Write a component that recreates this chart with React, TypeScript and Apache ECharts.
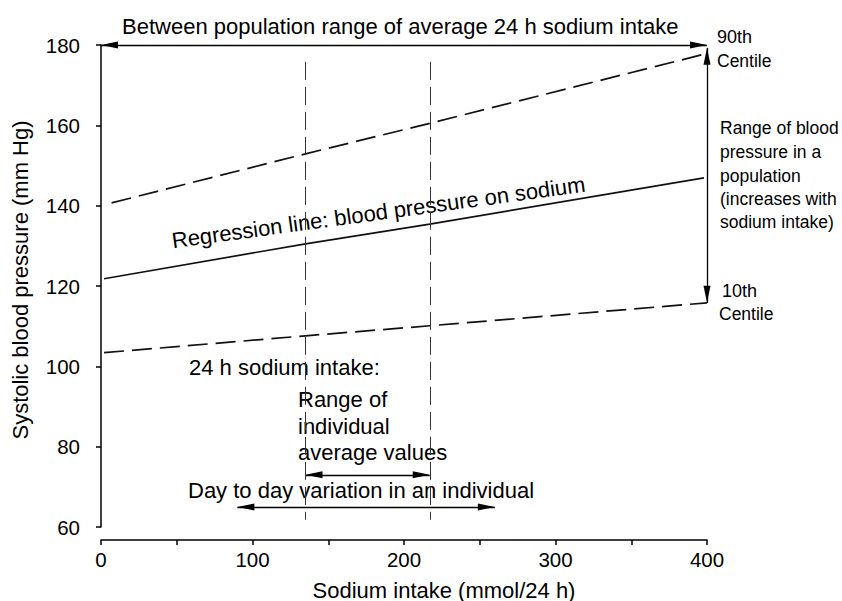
import React, { useEffect, useRef } from 'react';
import * as echarts from 'echarts';

// Axis ranges / ticks
const sodiumRange = [0, 400];
const bpRange = [60, 180];

// Curves: [sodium mmol/24 h, systolic BP mm Hg]
const centile90 = [[7, 140.7], [135, 152.9], [217, 160.5], [397, 177.6]];
const regression = [[2, 121.8], [135, 130.5], [217, 135.4], [398, 146.9]];
const centile10 = [[2, 103.4], [135, 107.6], [217, 110.1], [400, 115.8]];

// Individual range (vertical dashed guides)
const individualSodium = [135, 217];
const individualBpSpan = [175.8, 61.8];

// Arrows [from, to]
const populationArrow = [[0, 180], [400, 180]];
const bpRangeArrow = [[400, 179.3], [400, 115.8]];
const individualAvgArrow = [[135, 73], [217, 73]];
const dayToDayArrow = [[90, 65], [260, 65]];

const FONT = "'Liberation Sans', Arial, Helvetica, sans-serif";
const ARROW = 'path://M5,16L10,32L0,32Z M5,0';

function txt(text: string, x: number, y: number, size: number, extra: any = {}) {
  return {
    type: 'text',
    x,
    y,
    silent: true,
    ...extra,
    style: {
      text,
      fontSize: size,
      fontFamily: FONT,
      fill: '#000',
      align: extra.align || 'left',
      verticalAlign: 'middle',
    },
  };
}

export default function App() {
  const ref = useRef<HTMLDivElement>(null);
  useEffect(() => {
    if (!ref.current) return;
    const chart = echarts.init(ref.current, undefined, { renderer: 'svg' });
    const arrowLine = (pts: number[][]) => [{ coord: pts[0] }, { coord: pts[1] }];
    chart.setOption({
      animation: false,
      backgroundColor: '#fff',
      grid: {
        left: 101,
        right: 135,
        top: 45,
        bottom: 74,
        containLabel: false,
        outerBoundsMode: 'none',
      },
      xAxis: {
        type: 'value',
        min: sodiumRange[0],
        max: sodiumRange[1],
        interval: 50,
        offset: 13,
        name: 'Sodium intake (mmol/24 h)',
        nameLocation: 'middle',
        nameGap: 39,
        nameMoveOverlap: false,
        nameTextStyle: { fontSize: 22, fontFamily: FONT, color: '#000', padding: [0, 0, 0, 80] },
        axisLine: { show: true, lineStyle: { color: '#000', width: 1.5 } },
        axisTick: { show: true, length: 5, inside: false, lineStyle: { color: '#000', width: 1.5 } },
        axisLabel: {
          fontSize: 20.5,
          fontFamily: FONT,
          color: '#000',
          margin: 9,
          formatter: (v: number) => (v % 100 === 0 ? String(v) : ''),
        },
        splitLine: { show: false },
      },
      yAxis: {
        type: 'value',
        min: bpRange[0],
        max: bpRange[1],
        interval: 20,
        offset: 11,
        name: 'Systolic blood pressure (mm Hg)',
        nameLocation: 'middle',
        nameGap: 59,
        nameMoveOverlap: false,
        nameTextStyle: { fontSize: 22, fontFamily: FONT, color: '#000', padding: [0, 0, 0, 12] },
        axisLine: { show: true, lineStyle: { color: '#000', width: 1.5 } },
        axisTick: { show: true, length: 5, lineStyle: { color: '#000', width: 1.5 } },
        axisLabel: { fontSize: 20.5, fontFamily: FONT, color: '#000', margin: 10 },
        splitLine: { show: false },
      },
      series: [
        {
          name: '90th centile',
          type: 'line',
          data: centile90,
          symbol: 'none',
          clip: false,
          lineStyle: { color: '#111', width: 1.7, type: [20, 8] },
        },
        {
          name: 'Regression line',
          type: 'line',
          data: regression,
          symbol: 'none',
          clip: false,
          lineStyle: { color: '#111', width: 1.7 },
          markLine: {
            silent: true,
            symbol: [ARROW, ARROW],
            symbolSize: [7, 34],
            label: { show: false },
            emphasis: { disabled: true },
            lineStyle: { color: '#000', width: 1.3, type: 'solid' },
            data: [
              arrowLine(populationArrow),
              arrowLine(bpRangeArrow),
              arrowLine(individualAvgArrow),
              arrowLine(dayToDayArrow),
            ],
          },
        },
        {
          name: '10th centile',
          type: 'line',
          data: centile10,
          symbol: 'none',
          clip: false,
          lineStyle: { color: '#111', width: 1.7, type: [20, 8] },
          markLine: {
            silent: true,
            symbol: ['none', 'none'],
            label: { show: false },
            emphasis: { disabled: true },
            lineStyle: { color: '#333', width: 1, type: [18, 7] },
            data: individualSodium.map((s) => [
              { coord: [s, individualBpSpan[0]] },
              { coord: [s, individualBpSpan[1]] },
            ]),
          },
        },
      ],
      graphic: [
        txt('Between population range of average 24 h sodium intake', 122, 26, 22),
        txt('90th', 717, 37, 18),
        txt('Centile', 717, 61, 17.5),
        txt('Range of blood', 720, 128, 17.5),
        txt('pressure in a', 720, 152, 17.5),
        txt('population', 720, 176, 17.5),
        txt('(increases with', 720, 199, 17.5),
        txt('sodium intake)', 720, 222, 17.5),
        txt('10th', 722, 291, 18),
        txt('Centile', 719, 314, 17.5),
        txt('Regression line: blood pressure on sodium', 378.5, 212.5, 22, { rotation: 0.136, align: 'center' }),
        txt('24 h sodium intake:', 189, 367, 22),
        txt('Range of', 298, 399, 22),
        txt('individual', 298, 426, 22),
        txt('average values', 298, 452, 22),
        txt('Day to day variation in an individual', 188, 490, 22),
      ],
    });
    return () => chart.dispose();
  }, []);
  return (
    <div
      ref={ref}
      style={{ position: 'absolute', left: 0, top: 0, width: 842, height: 601, background: '#fff' }}
    />
  );
}
